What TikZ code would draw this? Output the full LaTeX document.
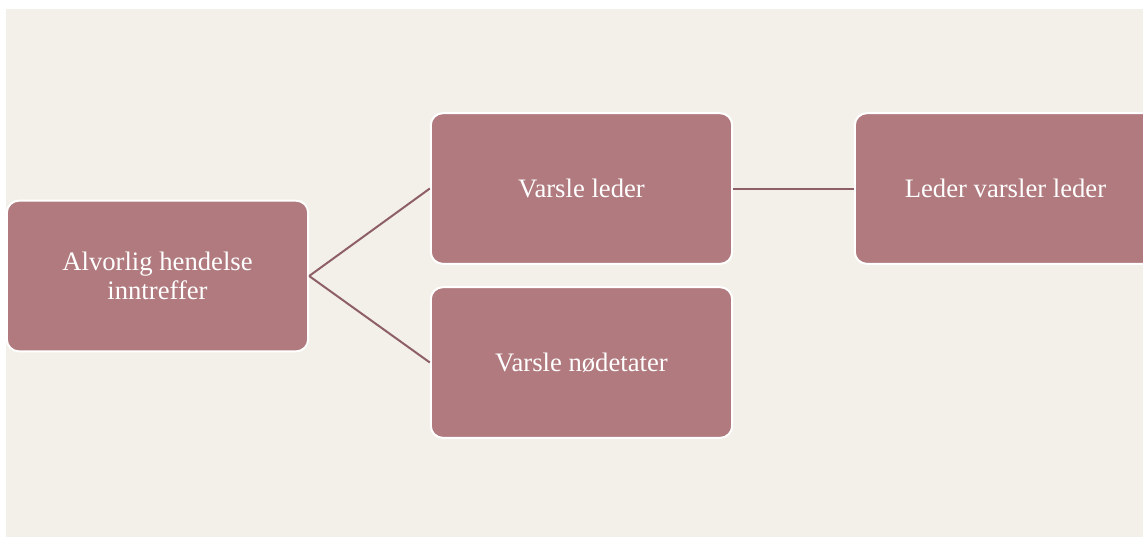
\documentclass[tikz,border=0pt]{standalone}
\usepackage{fontspec}
\setmainfont{Liberation Serif}
\definecolor{bgc}{HTML}{F3F0E9}
\definecolor{boxc}{HTML}{B07A7E}
\definecolor{linec}{HTML}{8E5F66}
\tikzset{
  stepbox/.style={draw=white, line width=1.5pt, fill=boxc, rounded corners=9pt,
    minimum width=226pt, minimum height=113pt, text=white, align=center,
    font=\fontsize{20}{22}\selectfont, inner sep=0pt},
  conn/.style={draw=linec, line width=1.5pt}
}
\begin{document}
\begin{tikzpicture}[x=0.75pt, y=-0.75pt]
\useasboundingbox (0,0) rectangle (1143,537);
\clip (0,0) rectangle (1143,537);
\fill[bgc] (6,9) rectangle (1143,537);
\node[stepbox] (A) at (157.5,276) {Alvorlig hendelse\\inntreffer};
\node[stepbox] (B) at (581.5,188.5) {Varsle leder};
\node[stepbox] (C) at (581.5,362.5) {Varsle nødetater};
\node[stepbox] (D) at (1005.5,188.5) {Leder varsler leder};
\draw[conn] (A.east) -- (B.west);
\draw[conn] (A.east) -- (C.west);
\draw[conn] (B.east) -- (D.west);
\end{tikzpicture}
\end{document}
